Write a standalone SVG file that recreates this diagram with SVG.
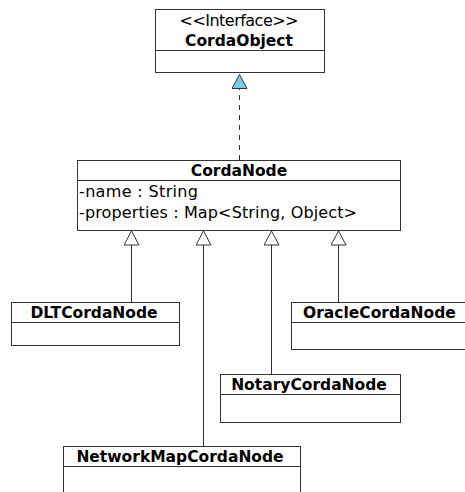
<svg xmlns="http://www.w3.org/2000/svg" width="465" height="492" viewBox="0 0 465 492">
<style>
.box{fill:#fff;stroke:#333;stroke-width:1}
.sep{stroke:#333;stroke-width:1}
.t{font-family:"DejaVu Sans",Verdana,sans-serif;font-size:16px;fill:#000}
.b{font-family:"DejaVu Sans",Verdana,sans-serif;font-size:15.5px;font-weight:bold;fill:#000}
.c{stroke:#333;stroke-width:1;fill:none}
</style>
<defs>
<marker id="gen" viewBox="0 0 16 16" refX="15" refY="8" markerWidth="16" markerHeight="16" markerUnits="userSpaceOnUse" orient="auto">
<path d="M1,0.5 L15,8 L1,15.5 z" fill="#fff" stroke="#333" stroke-width="1"/>
</marker>
<marker id="real" viewBox="0 0 16 16" refX="15" refY="8" markerWidth="16" markerHeight="16" markerUnits="userSpaceOnUse" orient="auto">
<path d="M1,0.5 L15,8 L1,15.5 z" fill="#7ccbef" stroke="#333" stroke-width="1"/>
</marker>
</defs>
<g id="connectors">
<path class="c" d="M239.5,160 L239.5,74.5" stroke-dasharray="5,5" marker-end="url(#real)"/>
<path class="c" d="M131.5,303 L131.5,231" marker-end="url(#gen)"/>
<path class="c" d="M203.5,446 L203.5,231" marker-end="url(#gen)"/>
<path class="c" d="M271.5,374 L271.5,231" marker-end="url(#gen)"/>
<path class="c" d="M338.5,303 L338.5,231" marker-end="url(#gen)"/>
</g>
<g id="CordaObject">
<rect class="box" x="155.5" y="9.5" width="169" height="63"/>
<line class="sep" x1="155.5" y1="50.5" x2="324.5" y2="50.5"/>
<text class="t" x="239" y="26" text-anchor="middle" textLength="119">&lt;&lt;Interface&gt;&gt;</text>
<text class="b" x="239" y="46" text-anchor="middle">CordaObject</text>
</g>
<g id="CordaNode">
<rect class="box" x="77.5" y="160.5" width="323" height="70"/>
<line class="sep" x1="77.5" y1="180.5" x2="400.5" y2="180.5"/>
<text class="b" x="239" y="176" text-anchor="middle">CordaNode</text>
<text class="t" x="79" y="197" textLength="119">-name : String</text>
<text class="t" x="79" y="218" textLength="278">-properties : Map&lt;String, Object&gt;</text>
</g>
<g id="DLTCordaNode">
<rect class="box" x="11.5" y="302.5" width="168" height="43"/>
<line class="sep" x1="11.5" y1="322.5" x2="179.5" y2="322.5"/>
<text class="b" x="94" y="318" text-anchor="middle">DLTCordaNode</text>
</g>
<g id="OracleCordaNode">
<rect class="box" x="291.5" y="302.5" width="190" height="47"/>
<line class="sep" x1="291.5" y1="322.5" x2="481.5" y2="322.5"/>
<text class="b" x="303" y="318">OracleCordaNode</text>
</g>
<g id="NotaryCordaNode">
<rect class="box" x="220.5" y="374.5" width="180" height="48"/>
<line class="sep" x1="220.5" y1="394.5" x2="400.5" y2="394.5"/>
<text class="b" x="309" y="390" text-anchor="middle">NotaryCordaNode</text>
</g>
<g id="NetworkMapCordaNode">
<rect class="box" x="63.5" y="446.5" width="237" height="60"/>
<line class="sep" x1="63.5" y1="466.5" x2="300.5" y2="466.5"/>
<text class="b" x="180" y="462" text-anchor="middle">NetworkMapCordaNode</text>
</g>
</svg>
